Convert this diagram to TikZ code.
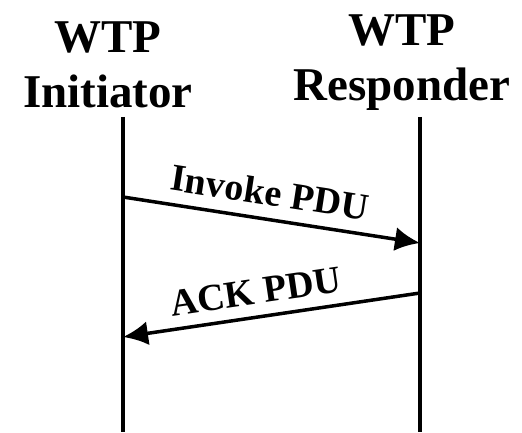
\documentclass[tikz,border=0pt]{standalone}
\usepackage{fontspec}
\setmainfont{Liberation Serif}
\usetikzlibrary{arrows.meta}

\begin{document}
\begin{tikzpicture}[x=1pt,y=1pt]
                \useasboundingbox (0,0) rectangle (522,432);

                \tikzstyle{party}=[align=center, inner sep=0pt, anchor=north, font=\fontsize{47}{55}\selectfont\bfseries]
                \tikzstyle{msglabel}=[sloped, inner sep=0pt, font=\fontsize{38}{40}\selectfont\bfseries]

                \node[party] (ini) at (108,410) {WTP\\Initiator};
                \node[party] (res) at (402,417) {WTP\\Responder};

                \coordinate (ini top) at (123,315);
                \coordinate (ini bot) at (123,0);
                \coordinate (res top) at (420,315);
                \coordinate (res bot) at (420,0);

                \coordinate (ini inv) at (123,235);
                \coordinate (res inv) at (420,189);
                \coordinate (res ack) at (420,139);
                \coordinate (ini ack) at (123,95);

                \tikzstyle{life}=[line width=3.5pt]
                \tikzstyle{bind}=[-{Latex[length=25pt,width=24pt]}, line width=3.5pt]

                \draw[life] (ini top) to (ini bot);
                \draw[life] (res top) to (res bot);

                \draw[bind] (ini inv) to node[msglabel, above=12pt, pos=0.48] {Invoke PDU} (res inv);
                \draw[bind] (res ack) to node[msglabel, above=11pt, pos=0.54] {ACK PDU} (ini ack);
            \end{tikzpicture}
\end{document}
